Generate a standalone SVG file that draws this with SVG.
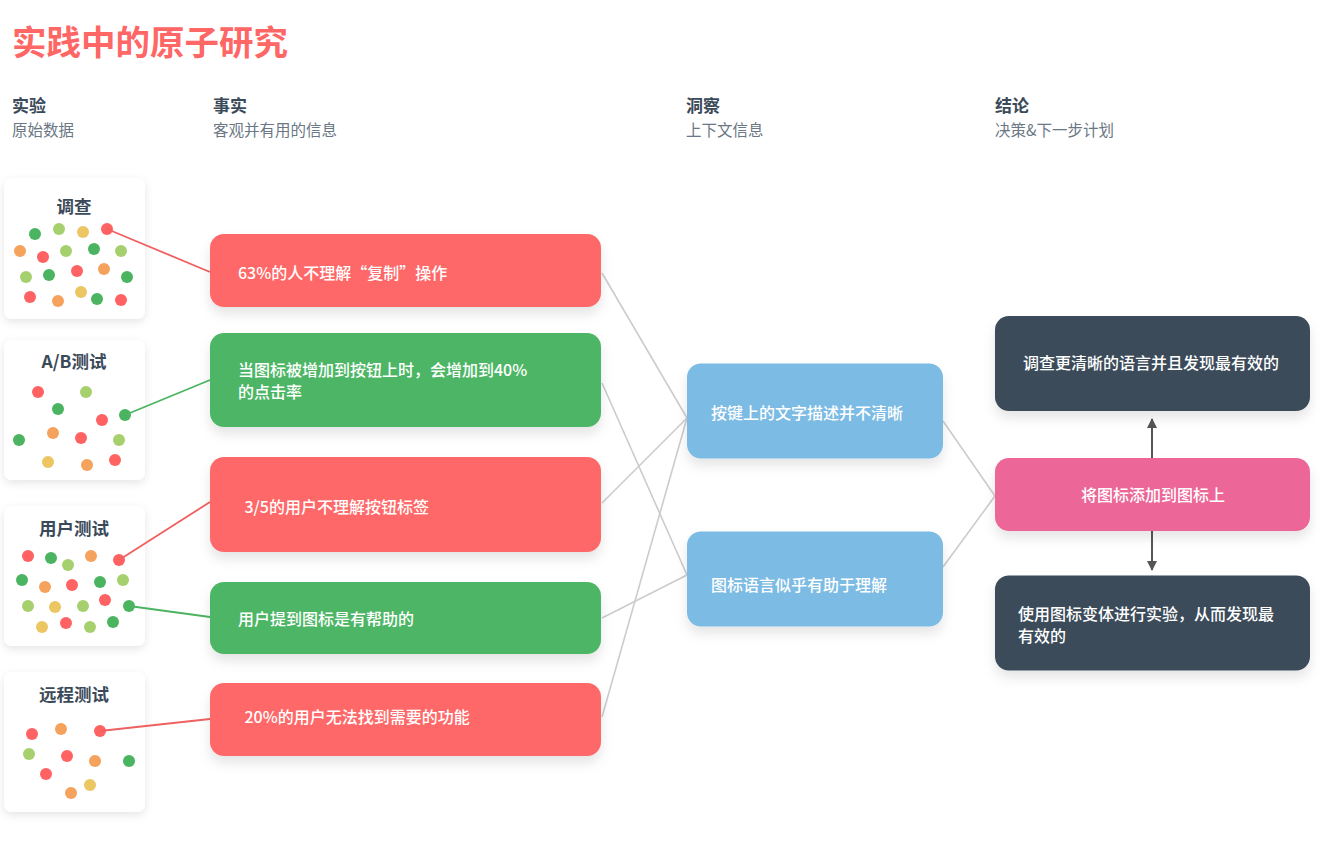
<svg xmlns="http://www.w3.org/2000/svg" width="1326" height="842" viewBox="0 0 1326 842">
<defs>
<style>
text{font-family:"Noto Sans CJK SC","Liberation Sans",sans-serif;}
.title{font-size:34.5px;font-weight:bold;fill:#ff6666;}
.hd{font-size:17px;font-weight:bold;fill:#3b4a59;}
.sub{font-size:15.5px;fill:#6b7784;}
.ct{font-size:17.5px;font-weight:bold;fill:#3b4a59;text-anchor:middle;}
.bt{font-size:16px;font-weight:500;fill:#ffffff;}
.card{fill:#ffffff;}
.red{fill:#ff6868;}
.grn{fill:#4db666;}
.blu{fill:#7bbbe4;}
.drk{fill:#3a4b5a;}
.pnk{fill:#ec6698;}
.d-r{fill:#ff6262;}
.d-g{fill:#4bb460;}
.d-l{fill:#a6d06e;}
.d-y{fill:#ecc662;}
.d-o{fill:#f5a25c;}
.gl{stroke:#cccccc;stroke-width:1.6;fill:none;}
.rl{stroke:#f06060;stroke-width:1.8;fill:none;}
.gnl{stroke:#4bb460;stroke-width:1.8;fill:none;}
.arr{stroke:#555555;stroke-width:2;fill:none;}
</style>
<filter id="sh" x="-20%" y="-30%" width="140%" height="180%">
<feDropShadow dx="0" dy="7" stdDeviation="6" flood-color="#000" flood-opacity="0.1"/>
</filter>
<filter id="csh" x="-20%" y="-20%" width="140%" height="150%">
<feDropShadow dx="0" dy="3" stdDeviation="4" flood-color="#000" flood-opacity="0.1"/>
</filter>
<marker id="ah" viewBox="0 0 10 10" refX="9" refY="5" markerWidth="5" markerHeight="5" orient="auto-start-reverse">
<path d="M0,0 L10,5 L0,10 z" fill="#555555"/>
</marker>
</defs>
<rect width="1326" height="842" fill="#ffffff"/>

<g id="headers">
<text class="title" x="12" y="55">实践中的原子研究</text>
<text class="hd" x="12" y="112">实验</text>
<text class="sub" x="12" y="135.5">原始数据</text>
<text class="hd" x="213" y="112">事实</text>
<text class="sub" x="213" y="135.5">客观并有用的信息</text>
<text class="hd" x="686" y="112">洞察</text>
<text class="sub" x="686" y="135.5">上下文信息</text>
<text class="hd" x="995" y="112">结论</text>
<text class="sub" x="995" y="135.5">决策&amp;下一步计划</text>
</g>

<g id="card-survey">
<rect class="card" x="4" y="178" width="141" height="141" rx="8" filter="url(#csh)"/>
<text class="ct" x="74" y="213">调查</text>
<circle class="d-g" cx="35" cy="234" r="6"/>
<circle class="d-l" cx="59" cy="229" r="6"/>
<circle class="d-y" cx="83" cy="232" r="6"/>
<circle class="d-r" cx="107" cy="229" r="6"/>
<circle class="d-o" cx="20" cy="251" r="6"/>
<circle class="d-r" cx="43" cy="257" r="6"/>
<circle class="d-l" cx="66" cy="251" r="6"/>
<circle class="d-g" cx="94" cy="249" r="6"/>
<circle class="d-l" cx="121" cy="251" r="6"/>
<circle class="d-l" cx="26" cy="277" r="6"/>
<circle class="d-g" cx="49" cy="275" r="6"/>
<circle class="d-r" cx="77" cy="271" r="6"/>
<circle class="d-o" cx="104" cy="269" r="6"/>
<circle class="d-g" cx="127" cy="277" r="6"/>
<circle class="d-r" cx="30" cy="297" r="6"/>
<circle class="d-o" cx="58" cy="301" r="6"/>
<circle class="d-y" cx="81" cy="292" r="6"/>
<circle class="d-g" cx="97" cy="299" r="6"/>
<circle class="d-r" cx="121" cy="300" r="6"/>
</g>

<g id="card-ab">
<rect class="card" x="4" y="340" width="141" height="140" rx="8" filter="url(#csh)"/>
<text class="ct" x="74" y="368">A/B测试</text>
<circle class="d-r" cx="38" cy="392" r="6"/>
<circle class="d-l" cx="86" cy="392" r="6"/>
<circle class="d-g" cx="58" cy="409" r="6"/>
<circle class="d-r" cx="102" cy="420" r="6"/>
<circle class="d-g" cx="125" cy="415" r="6"/>
<circle class="d-g" cx="19" cy="440" r="6"/>
<circle class="d-o" cx="53" cy="433" r="6"/>
<circle class="d-r" cx="81" cy="438" r="6"/>
<circle class="d-l" cx="119" cy="440" r="6"/>
<circle class="d-y" cx="48" cy="462" r="6"/>
<circle class="d-o" cx="87" cy="465" r="6"/>
<circle class="d-r" cx="115" cy="460" r="6"/>
</g>

<g id="card-usertest">
<rect class="card" x="4" y="506" width="141" height="140" rx="8" filter="url(#csh)"/>
<text class="ct" x="74" y="534.5">用户测试</text>
<circle class="d-r" cx="28" cy="556" r="6"/>
<circle class="d-g" cx="51" cy="558" r="6"/>
<circle class="d-l" cx="68" cy="565" r="6"/>
<circle class="d-o" cx="91" cy="556" r="6"/>
<circle class="d-r" cx="119" cy="560" r="6"/>
<circle class="d-g" cx="22" cy="580" r="6"/>
<circle class="d-o" cx="45" cy="587" r="6"/>
<circle class="d-r" cx="72" cy="585" r="6"/>
<circle class="d-g" cx="100" cy="582" r="6"/>
<circle class="d-l" cx="123" cy="580" r="6"/>
<circle class="d-l" cx="28" cy="606" r="6"/>
<circle class="d-y" cx="55" cy="607" r="6"/>
<circle class="d-l" cx="83" cy="606" r="6"/>
<circle class="d-r" cx="105" cy="600" r="6"/>
<circle class="d-g" cx="129" cy="606" r="6"/>
<circle class="d-y" cx="42" cy="627" r="6"/>
<circle class="d-r" cx="66" cy="623" r="6"/>
<circle class="d-l" cx="90" cy="627" r="6"/>
<circle class="d-g" cx="113" cy="622" r="6"/>
</g>

<g id="card-remote">
<rect class="card" x="4" y="672" width="141" height="140" rx="8" filter="url(#csh)"/>
<text class="ct" x="74" y="700.5">远程测试</text>
<circle class="d-r" cx="32" cy="734" r="6"/>
<circle class="d-o" cx="61" cy="729" r="6"/>
<circle class="d-r" cx="100" cy="731" r="6"/>
<circle class="d-l" cx="29" cy="754" r="6"/>
<circle class="d-r" cx="67" cy="756" r="6"/>
<circle class="d-o" cx="95" cy="761" r="6"/>
<circle class="d-g" cx="129" cy="761" r="6"/>
<circle class="d-r" cx="46" cy="774" r="6"/>
<circle class="d-y" cx="90" cy="785" r="6"/>
<circle class="d-o" cx="71" cy="793" r="6"/>
</g>

<g id="connectors">
<line class="rl" x1="107" y1="229" x2="210" y2="272"/>
<line class="gnl" x1="125" y1="415" x2="210" y2="380"/>
<line class="rl" x1="119" y1="560" x2="210" y2="502"/>
<line class="gnl" x1="129" y1="606" x2="210" y2="617"/>
<line class="rl" x1="100" y1="731" x2="210" y2="719"/>
<line class="gl" x1="602" y1="273" x2="687" y2="418"/>
<line class="gl" x1="602" y1="383" x2="687" y2="575"/>
<line class="gl" x1="602" y1="503" x2="687" y2="418"/>
<line class="gl" x1="602" y1="618" x2="687" y2="575"/>
<line class="gl" x1="602" y1="717" x2="687" y2="418"/>
<line class="gl" x1="943" y1="421" x2="995" y2="496"/>
<line class="gl" x1="943" y1="567" x2="995" y2="496"/>
<line class="arr" x1="1152" y1="458" x2="1152" y2="419" marker-end="url(#ah)"/>
<line class="arr" x1="1152" y1="531" x2="1152" y2="570" marker-end="url(#ah)"/>
</g>

<g id="fact-1">
<rect class="red" x="210" y="234" width="391" height="73" rx="14" filter="url(#sh)"/>
<text class="bt" x="238" y="279">63%的人不理解“复制”操作</text>
</g>
<g id="fact-2">
<rect class="grn" x="210" y="333" width="391" height="94" rx="14" filter="url(#sh)"/>
<text class="bt" x="238" y="376">当图标被增加到按钮上时，会增加到40%</text>
<text class="bt" x="238" y="397.5">的点击率</text>
</g>
<g id="fact-3">
<rect class="red" x="210" y="457" width="391" height="95" rx="14" filter="url(#sh)"/>
<text class="bt" x="244.5" y="513">3/5的用户不理解按钮标签</text>
</g>
<g id="fact-4">
<rect class="grn" x="210" y="582" width="391" height="72" rx="14" filter="url(#sh)"/>
<text class="bt" x="238" y="624.5">用户提到图标是有帮助的</text>
</g>
<g id="fact-5">
<rect class="red" x="210" y="683" width="391" height="73" rx="14" filter="url(#sh)"/>
<text class="bt" x="244.5" y="722.5">20%的用户无法找到需要的功能</text>
</g>

<g id="insight-1">
<rect class="blu" x="687" y="363.5" width="256" height="95" rx="14" filter="url(#sh)"/>
<text class="bt" x="711" y="419">按键上的文字描述并不清晰</text>
</g>
<g id="insight-2">
<rect class="blu" x="687" y="531.5" width="256" height="95" rx="14" filter="url(#sh)"/>
<text class="bt" x="711" y="590.5">图标语言似乎有助于理解</text>
</g>

<g id="conclusion-1">
<rect class="drk" x="995" y="316" width="315" height="95" rx="14" filter="url(#sh)"/>
<text class="bt" x="1023" y="369">调查更清晰的语言并且发现最有效的</text>
</g>
<g id="conclusion-2">
<rect class="pnk" x="995" y="458" width="315" height="73" rx="14" filter="url(#sh)"/>
<text class="bt" x="1153" y="500.5" text-anchor="middle">将图标添加到图标上</text>
</g>
<g id="conclusion-3">
<rect class="drk" x="995" y="575.5" width="315" height="95" rx="14" filter="url(#sh)"/>
<text class="bt" x="1018" y="620">使用图标变体进行实验，从而发现最</text>
<text class="bt" x="1018" y="642">有效的</text>
</g>
</svg>
